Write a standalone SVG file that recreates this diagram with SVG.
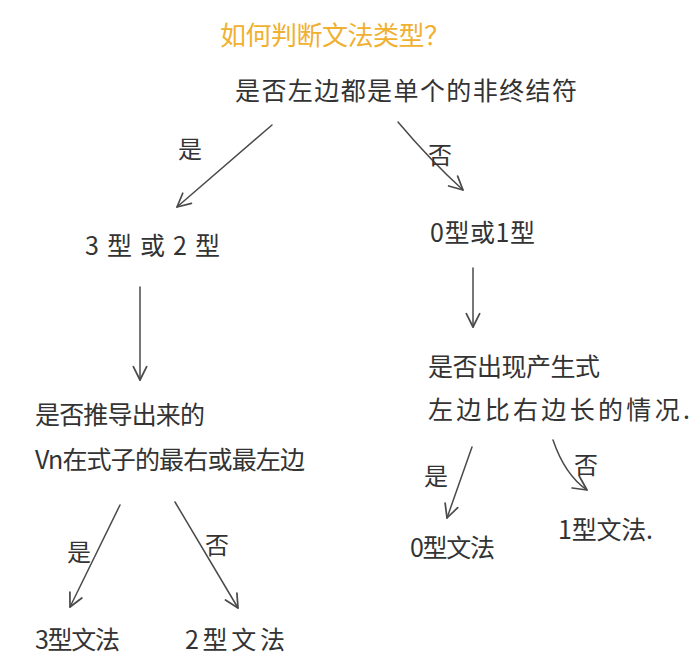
<svg xmlns="http://www.w3.org/2000/svg" width="694" height="666" viewBox="0 0 694 666">
<defs>
<marker id="ah" viewBox="0 0 12 12" refX="11" refY="6" markerWidth="16" markerHeight="16" markerUnits="userSpaceOnUse" orient="auto">
<path d="M1,1 L11,6 L1,11" fill="none" stroke="#4a4a4a" stroke-width="1.3" stroke-linecap="round" stroke-linejoin="round"/>
</marker>
<style>
text{font-family:"Noto Sans CJK SC","Noto Sans",sans-serif;fill:#333;}
.t{font-size:25px;}
.title{font-size:26px;fill:#F0B030;}
.lbl{font-size:24px;}
.e{fill:none;stroke:#4a4a4a;stroke-width:1.5;stroke-linecap:round;marker-end:url(#ah);}
</style>
</defs>
<rect width="694" height="666" fill="#ffffff"/>
<g id="title"><text class="title" x="220" y="45" textLength="230" lengthAdjust="spacing">如何判断文法类型？</text></g>
<g id="q1"><text class="t" x="235" y="100" textLength="342" lengthAdjust="spacing">是否左边都是单个的非终结符</text></g>
<g id="n32"><text class="t" x="85" y="255" textLength="135" lengthAdjust="spacing">3型或2型</text></g>
<g id="n01"><text class="t" x="430" y="242" textLength="105" lengthAdjust="spacing">0型或1型</text></g>
<g id="q2"><text class="t" x="35" y="424" textLength="170" lengthAdjust="spacing">是否推导出来的</text><text class="t" x="35" y="469" textLength="270" lengthAdjust="spacing">Vn在式子的最右或最左边</text></g>
<g id="q3"><text class="t" x="428" y="376" textLength="172" lengthAdjust="spacing">是否出现产生式</text><text class="t" x="428" y="419" textLength="262" lengthAdjust="spacing">左边比右边长的情况.</text></g>
<g id="g3"><text class="t" x="35" y="649" textLength="85" lengthAdjust="spacing">3型文法</text></g>
<g id="g2"><text class="t" x="185" y="649" textLength="100" lengthAdjust="spacing">2型文法</text></g>
<g id="g0"><text class="t" x="410" y="557" textLength="85" lengthAdjust="spacing">0型文法</text></g>
<g id="g1"><text class="t" x="558" y="539" textLength="95" lengthAdjust="spacing">1型文法.</text></g>
<g id="connectors">
<path class="e" d="M272,125 L177,207"/>
<path class="e" d="M398,122 Q430,160 463,190"/>
<path class="e" d="M140,287 L140,380"/>
<path class="e" d="M473,268 L473,327"/>
<path class="e" d="M120,505 L70,607"/>
<path class="e" d="M175,502 L238,608"/>
<path class="e" d="M472,447 L447,518"/>
<path class="e" d="M553,440 Q565,475 587,490"/>
<text class="lbl" x="178" y="158">是</text>
<text class="lbl" x="428" y="164">否</text>
<text class="lbl" x="67" y="561">是</text>
<text class="lbl" x="205" y="554">否</text>
<text class="lbl" x="424" y="485">是</text>
<text class="lbl" x="574" y="474">否</text>
</g>
</svg>
